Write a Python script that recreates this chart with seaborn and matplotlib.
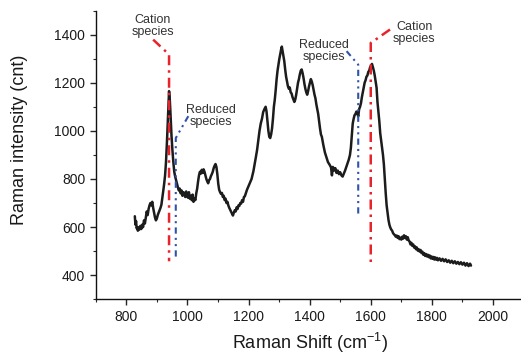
import matplotlib
matplotlib.use("Agg")
import pandas as pd
import seaborn as sns
from matplotlib import pyplot as plt
from matplotlib.ticker import MultipleLocator

# spectrum (cm-1, counts)
raman_shift = [
    828, 830, 832, 834, 836, 838, 840, 843, 846, 849,
    852, 855, 858, 861, 864, 867, 870, 873, 876, 879,
    882, 885, 888, 891, 894, 897, 900, 903, 906, 909,
    912, 915, 918, 921, 924, 927, 930, 933, 936, 938,
    940, 942, 944, 946, 948, 951, 954, 957, 960, 963,
    966, 969, 972, 975, 978, 981, 984, 987, 990, 993,
    996, 999, 1002, 1005, 1008, 1011, 1014, 1017, 1020, 1023,
    1026, 1029, 1032, 1035, 1038, 1041, 1044, 1047, 1050, 1053,
    1056, 1059, 1062, 1065, 1068, 1071, 1074, 1077, 1080, 1083,
    1086, 1089, 1092, 1095, 1098, 1101, 1104, 1107, 1110, 1113,
    1116, 1119, 1122, 1125, 1128, 1131, 1134, 1137, 1140, 1143,
    1146, 1149, 1152, 1155, 1158, 1161, 1164, 1167, 1170, 1173,
    1176, 1179, 1182, 1185, 1188, 1191, 1195, 1200, 1205, 1210,
    1216, 1220, 1224, 1228, 1232, 1236, 1240, 1244, 1248, 1252,
    1256, 1259, 1262, 1265, 1268, 1271, 1274, 1277, 1280, 1283,
    1286, 1289, 1292, 1295, 1298, 1301, 1304, 1307, 1309, 1311,
    1314, 1317, 1320, 1323, 1326, 1329, 1332, 1335, 1338, 1341,
    1344, 1347, 1350, 1353, 1356, 1359, 1362, 1365, 1368, 1371,
    1374, 1377, 1380, 1383, 1386, 1389, 1392, 1395, 1398, 1401,
    1404, 1407, 1410, 1413, 1416, 1419, 1422, 1425, 1428, 1431,
    1434, 1437, 1440, 1445, 1450, 1455, 1460, 1465, 1470, 1473,
    1476, 1480, 1484, 1488, 1492, 1496, 1500, 1504, 1508, 1512,
    1516, 1520, 1524, 1528, 1532, 1535, 1538, 1541, 1544, 1547,
    1550, 1553, 1556, 1559, 1562, 1565, 1568, 1571, 1574, 1577,
    1580, 1583, 1586, 1589, 1592, 1595, 1598, 1601, 1604, 1607,
    1610, 1613, 1616, 1619, 1622, 1625, 1628, 1631, 1634, 1637,
    1640, 1643, 1646, 1649, 1652, 1655, 1658, 1661, 1664, 1667,
    1670, 1673, 1676, 1679, 1682, 1685, 1688, 1691, 1694, 1697,
    1700, 1703, 1706, 1709, 1712, 1715, 1718, 1721, 1724, 1727,
    1730, 1733, 1736, 1739, 1742, 1745, 1748, 1751, 1754, 1757,
    1760, 1763, 1766, 1769, 1772, 1775, 1778, 1781, 1784, 1787,
    1790, 1793, 1796, 1799, 1802, 1805, 1808, 1811, 1814, 1817,
    1820, 1825, 1830, 1835, 1840, 1845, 1850, 1855, 1860, 1865,
    1870, 1875, 1880, 1885, 1890, 1895, 1900, 1905, 1910, 1915,
    1920, 1925, 1928,
]
intensity = [
    645, 610, 625, 595, 600, 585, 598, 590, 605, 592,
    610, 600, 628, 615, 640, 665, 650, 675, 690, 700,
    690, 705, 680, 660, 640, 628, 635, 650, 660, 670,
    680, 693, 720, 750, 780, 815, 870, 950, 1040, 1110,
    1165, 1140, 1090, 1030, 980, 920, 870, 830, 810, 795,
    780, 765, 752, 760, 740, 752, 730, 745, 740, 725,
    748, 730, 722, 745, 718, 730, 712, 735, 705, 720,
    712, 740, 760, 790, 815, 830, 822, 838, 825, 840,
    830, 815, 800, 790, 782, 795, 800, 812, 820, 830,
    845, 855, 862, 850, 820, 780, 755, 745, 738, 742,
    725, 730, 712, 718, 700, 705, 690, 680, 672, 665,
    655, 648, 660, 670, 665, 682, 675, 690, 688, 700,
    698, 712, 705, 725, 728, 740, 755, 770, 785, 800,
    832, 860, 890, 920, 960, 1000, 1030, 1050, 1078, 1090,
    1100, 1080, 1040, 1000, 975, 970, 985, 1010, 1050, 1100,
    1130, 1170, 1215, 1250, 1275, 1300, 1320, 1340, 1350, 1335,
    1310, 1290, 1255, 1225, 1205, 1185, 1175, 1180, 1160, 1155,
    1140, 1130, 1120, 1130, 1150, 1175, 1200, 1215, 1235, 1250,
    1255, 1240, 1220, 1195, 1175, 1160, 1150, 1165, 1185, 1200,
    1215, 1205, 1190, 1170, 1150, 1135, 1110, 1090, 1070, 1040,
    1010, 985, 975, 940, 910, 890, 870, 860, 848, 815,
    850, 835, 845, 825, 835, 820, 828, 815, 810, 822,
    835, 850, 865, 880, 900, 930, 980, 1030, 1050, 1065,
    1070, 1080, 1075, 1060, 1090, 1100, 1115, 1140, 1160, 1180,
    1200, 1210, 1225, 1230, 1245, 1250, 1265, 1270, 1278, 1265,
    1250, 1230, 1205, 1180, 1120, 1080, 1040, 990, 960, 930,
    900, 860, 800, 740, 690, 660, 630, 610, 598, 590,
    585, 575, 570, 566, 560, 565, 555, 562, 550, 556,
    548, 560, 552, 566, 555, 562, 548, 558, 545, 540,
    528, 535, 522, 528, 515, 520, 508, 515, 502, 508,
    498, 505, 492, 498, 485, 492, 480, 488, 478, 485,
    475, 482, 470, 478, 468, 476, 465, 474, 465, 472,
    462, 470, 460, 468, 458, 466, 455, 462, 452, 460,
    450, 458, 448, 455, 446, 454, 444, 452, 440, 450,
    438, 448, 440,
]

# guide lines (x, y) and their labels
cation_left_x = [888, 940, 940]
cation_left_y = [1379, 1317, 458]
reduced_left_x = [1003, 962, 962]
reduced_left_y = [1061, 970, 468]
reduced_right_x = [1521, 1559, 1559]
reduced_right_y = [1331, 1275, 652]
cation_right_x = [1663, 1600, 1600]
cation_right_y = [1421, 1365, 451]

label_x = [886, 1077, 1447, 1742]
label_y = [1434, 1063, 1333, 1405]
label_text = ["Cation\nspecies", "Reduced\nspecies", "Reduced\nspecies", "Cation\nspecies"]

RED = "#e8232b"
BLUE = "#2d54a8"
TXT = "#1a1a1a"

sns.set_style("ticks")
plt.rcParams["font.family"] = ["Liberation Sans", "DejaVu Sans"]
plt.rcParams["mathtext.fontset"] = "custom"
plt.rcParams["mathtext.rm"] = "Liberation Sans"
plt.rcParams["mathtext.it"] = "Liberation Sans"

fig = plt.figure(figsize=(5.21, 3.56), dpi=100)
ax = fig.add_axes([0.1837, 0.1593, 0.8212, 0.8112])

df = pd.DataFrame({"shift": raman_shift, "intensity": intensity})
sns.lineplot(data=df, x="shift", y="intensity", ax=ax, color="#1c1c1c",
             lw=1.8, sort=False, estimator=None)

ax.plot(cation_left_x, cation_left_y, color=RED, lw=1.8, ls=(0, (4, 2, 1, 2)))
ax.plot(cation_right_x, cation_right_y, color=RED, lw=1.8, ls=(0, (4, 2, 1, 2)))
ax.plot(reduced_left_x, reduced_left_y, color=BLUE, lw=1.5, ls=(0, (3, 2, 1, 2, 1, 2)))
ax.plot(reduced_right_x, reduced_right_y, color=BLUE, lw=1.5, ls=(0, (3, 2, 1, 2, 1, 2)))

for x, y, t in zip(label_x, label_y, label_text):
    ax.text(x, y, t, ha="center", va="center", fontsize=9, color="#333333",
            linespacing=1.0)

ax.set_xlim(700, 2100)
ax.set_ylim(300, 1500)
ax.xaxis.set_major_locator(MultipleLocator(200))
ax.xaxis.set_minor_locator(MultipleLocator(100))
ax.yaxis.set_major_locator(MultipleLocator(200))
ax.yaxis.set_minor_locator(MultipleLocator(100))
ax.tick_params(which="major", length=4.5, width=1, direction="out",
               labelsize=10, labelcolor=TXT, pad=3)
ax.tick_params(which="minor", length=2.5, width=0.8, direction="out")

sns.despine(ax=ax)
for s in ["left", "bottom"]:
    ax.spines[s].set_linewidth(1)
    ax.spines[s].set_color("#111111")

ax.set_xlabel("Raman Shift (cm$^{-1}$)", fontsize=13, color=TXT)
ax.set_ylabel("Raman intensity (cnt)", fontsize=13, color=TXT)
ax.xaxis.set_label_coords(0.5, -0.108)
ax.yaxis.set_label_coords(-0.158, 0.552)

fig.savefig("out.png", dpi=100)
